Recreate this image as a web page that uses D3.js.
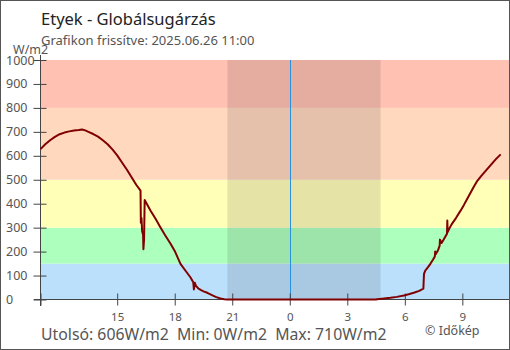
<!DOCTYPE html>
<html><head><meta charset="utf-8">
<script src="https://cdn.jsdelivr.net/npm/d3@7"></script>
<style>
html,body{margin:0;padding:0;background:#fff;}
svg{display:block;font-family:"Noto Sans","Open Sans",sans-serif;}
</style></head>
<body>
<svg id="chart" width="510" height="350"></svg>
<script>
// ---------- data ----------
const title = "Etyek - Globálsugárzás";
const subtitle = "Grafikon frissítve: 2025.06.26 11:00";
const unitLabel = "W/m2";
const footer = "Utolsó: 606W/m2  Min: 0W/m2  Max: 710W/m2";
const credit = "© Időkép";

const domainTimes = ["2025-06-25 11:00", "2025-06-26 11:26"];
const nightTimes = ["2025-06-25 20:45", "2025-06-26 04:44"];
const midnightTime = ["2025-06-26 00:00"];

const bandEdges = [0, 150, 300, 500, 800, 1000];
const bandColors = ["#bbe0fb", "#acffbc", "#ffffb8", "#ffd8be", "#ffc1b1"];

const yTicks = [0, 100, 200, 300, 400, 500, 600, 700, 800, 900, 1000];
const xTickTimes = ["2025-06-25 11:00", "2025-06-25 15:00", "2025-06-25 18:00", "2025-06-25 21:00",
  "2025-06-26 00:00", "2025-06-26 03:00", "2025-06-26 06:00", "2025-06-26 09:00"];
const xTickLabels = ["", "15", "18", "21", "0", "3", "6", "9"];

const times = [
  "2025-06-25 11:00","2025-06-25 11:15","2025-06-25 11:30","2025-06-25 11:45","2025-06-25 12:00",
  "2025-06-25 12:15","2025-06-25 12:30","2025-06-25 12:45","2025-06-25 13:00","2025-06-25 13:10",
  "2025-06-25 13:20","2025-06-25 13:30","2025-06-25 13:45","2025-06-25 14:00","2025-06-25 14:15",
  "2025-06-25 14:30","2025-06-25 14:45","2025-06-25 15:00","2025-06-25 15:15","2025-06-25 15:30",
  "2025-06-25 15:45","2025-06-25 16:00","2025-06-25 16:13","2025-06-25 16:14","2025-06-25 16:16",
  "2025-06-25 16:18","2025-06-25 16:21","2025-06-25 16:22","2025-06-25 16:24","2025-06-25 16:26",
  "2025-06-25 16:44","2025-06-25 17:00","2025-06-25 17:15","2025-06-25 17:30","2025-06-25 17:47",
  "2025-06-25 18:00","2025-06-25 18:18","2025-06-25 18:35","2025-06-25 18:49","2025-06-25 18:58",
  "2025-06-25 19:00","2025-06-25 19:03","2025-06-25 19:06","2025-06-25 19:10","2025-06-25 19:14",
  "2025-06-25 19:21","2025-06-25 19:30","2025-06-25 19:42","2025-06-25 19:55","2025-06-25 20:08",
  "2025-06-25 20:23","2025-06-25 20:35","2025-06-25 20:44","2025-06-25 21:00","2025-06-26 00:00",
  "2025-06-26 03:00","2025-06-26 04:30","2025-06-26 04:33","2025-06-26 04:55","2025-06-26 05:15",
  "2025-06-26 05:35","2025-06-26 05:57","2025-06-26 06:12","2025-06-26 06:28","2025-06-26 06:45",
  "2025-06-26 06:58","2025-06-26 07:00","2025-06-26 07:04","2025-06-26 07:12","2025-06-26 07:20",
  "2025-06-26 07:28","2025-06-26 07:34","2025-06-26 07:35","2025-06-26 07:36","2025-06-26 07:44",
  "2025-06-26 07:49","2025-06-26 07:50","2025-06-26 07:55","2025-06-26 08:03","2025-06-26 08:12",
  "2025-06-26 08:13","2025-06-26 08:14","2025-06-26 08:20","2025-06-26 08:28","2025-06-26 08:40",
  "2025-06-26 08:54","2025-06-26 09:05","2025-06-26 09:15","2025-06-26 09:35","2025-06-26 09:45",
  "2025-06-26 10:00","2025-06-26 10:15","2025-06-26 10:30","2025-06-26 10:45","2025-06-26 11:00"
];
const values = [
  628, 648, 665, 679, 690,
  697, 702, 706, 708, 710,
  706, 700, 691, 680, 665,
  648, 627, 602, 572, 543,
  510, 478, 455, 320, 340,
  285, 270, 210, 250, 415,
  372, 337, 302, 268, 233,
  203, 149, 118, 93, 72,
  42, 70, 58, 52, 46,
  40, 34, 28, 19, 11,
  4, 1, 0, 0, 0,
  0, 0, 1, 4, 7,
  11, 17, 22, 28, 36,
  45, 107, 121, 134, 149,
  166, 180, 200, 188, 206,
  225, 250, 236, 254, 275,
  330, 282, 298, 317, 340,
  370, 395, 420, 469, 492,
  517, 540, 563, 586, 606
];

// ---------- chart ----------
const parse = d3.timeParse("%Y-%m-%d %H:%M");
const data = times.map((t, i) => ({t: parse(t), v: values[i]}));

const svg = d3.select("#chart");
const pL = 40.5, pR = 509, pT = 60, pB = 299.5;

const x = d3.scaleTime().domain(domainTimes.map(parse)).range([pL, pR]);
const y = d3.scaleLinear().domain([0, 1000]).range([pB, pT]);

// bands
const bands = bandColors.map((c, i) => ({lo: bandEdges[i], hi: bandEdges[i + 1], c}));
svg.append("g").selectAll("rect").data(bands).join("rect")
  .attr("x", pL).attr("width", pR - pL)
  .attr("y", d => y(d.hi)).attr("height", d => y(d.lo) - y(d.hi))
  .attr("fill", d => d.c);

// night
const nt = nightTimes.map(parse);
svg.append("rect")
  .attr("x", x(nt[0])).attr("width", x(nt[1]) - x(nt[0]))
  .attr("y", y(1000)).attr("height", y(0) - y(1000))
  .attr("fill", "rgba(40,30,40,0.12)");

// midnight line
const mt = parse(midnightTime[0]);
svg.append("line")
  .attr("x1", Math.round(x(mt)) + 0.5).attr("x2", Math.round(x(mt)) + 0.5)
  .attr("y1", y(1000)).attr("y2", y(0))
  .attr("stroke", "#2a90e0").attr("stroke-width", 1);

// y axis
const yAxis = svg.append("g").attr("transform", `translate(${pL},0)`)
  .call(d3.axisLeft(y).tickValues(yTicks).tickSize(6).tickFormat(d3.format("d")));
yAxis.select(".domain").remove();
yAxis.selectAll(".tick line").attr("x1", 6).attr("x2", -7).attr("stroke", "#444");
yAxis.selectAll(".tick text").attr("x", 6 - pL).attr("text-anchor", "start")
  .attr("fill", "#555").style("font-size", "12.5px").style("font-family", "Noto Sans");
svg.append("line").attr("x1", pL).attr("x2", pL).attr("y1", 55).attr("y2", 306)
  .attr("stroke", "#444");

// x axis
const xAxis = svg.append("g").attr("transform", `translate(0,${pB})`)
  .call(d3.axisBottom(x).tickValues(xTickTimes.map(parse)).tickSize(6)
    .tickFormat((d, i) => xTickLabels[i]));
xAxis.select(".domain").remove();
xAxis.selectAll(".tick line").attr("y1", -6).attr("y2", 6).attr("stroke", "#444");
xAxis.selectAll(".tick text").attr("y", 13).attr("fill", "#555")
  .style("font-size", "11.5px").style("font-family", "Noto Sans");
svg.append("line").attr("x1", 34).attr("x2", pR).attr("y1", pB).attr("y2", pB)
  .attr("stroke", "#444");

// series
svg.append("path").datum(data)
  .attr("d", d3.line().x(d => x(d.t)).y(d => y(d.v)))
  .attr("fill", "none").attr("stroke", "#800000").attr("stroke-width", 2)
  .attr("stroke-linejoin", "round");

// texts
svg.append("text").attr("x", 41).attr("y", 25).text(title)
  .attr("fill", "#222").style("font-size", "16.5px");
svg.append("text").attr("x", 41).attr("y", 45).text(subtitle)
  .attr("fill", "#555").style("font-size", "13px");
svg.append("text").attr("x", 13).attr("y", 54).text(unitLabel)
  .attr("fill", "#555").style("font-size", "12.5px");
svg.append("text").attr("x", 41).attr("y", 339.5).text(footer)
  .attr("fill", "#555").style("font-size", "15.8px").attr("xml:space", "preserve");
svg.append("text").attr("x", 425).attr("y", 335).text(credit)
  .attr("fill", "#555").style("font-size", "12.5px");

// border
svg.append("rect").attr("x", 0.5).attr("y", 0.5).attr("width", 509).attr("height", 349)
  .attr("fill", "none").attr("stroke", "#555");
</script>
</body></html>
